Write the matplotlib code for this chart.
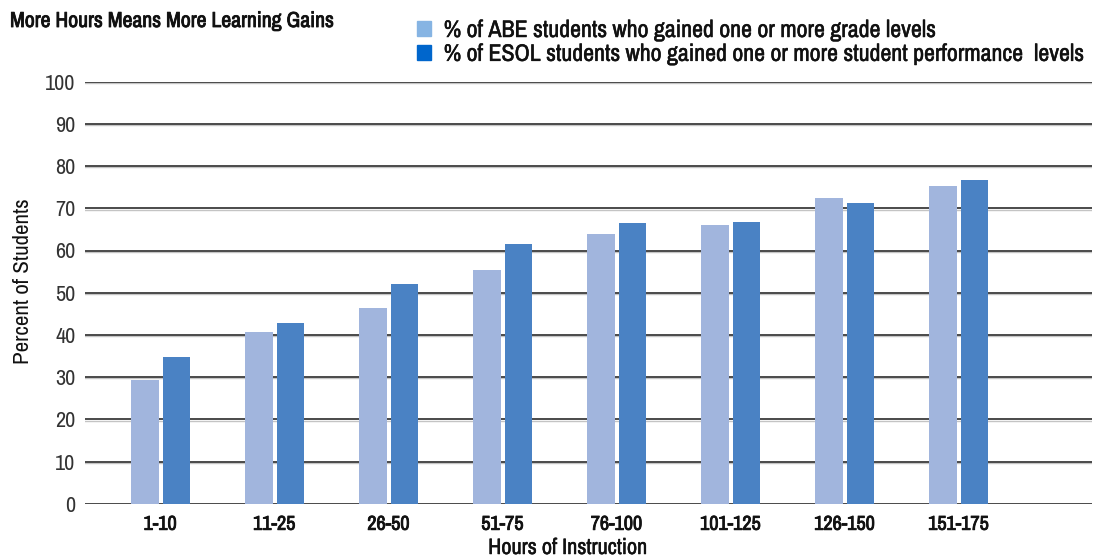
import matplotlib
matplotlib.use("Agg")
import matplotlib.pyplot as plt
import matplotlib.patches as mpatches
import matplotlib.patheffects as pe
import numpy as np

# Data
hours = ["1-10", "11-25", "26-50", "51-75", "76-100", "101-125", "126-150", "151-175"]
abe_pct = [29.3, 40.7, 46.4, 55.4, 63.9, 66.0, 72.4, 75.2]
esol_pct = [34.8, 42.8, 52.1, 61.5, 66.5, 66.8, 71.2, 76.7]
series_labels = [
    "% of ABE students who gained one or more grade levels",
    "% of ESOL students who gained one or more student performance  levels",
]
y_ticks = [0, 10, 20, 30, 40, 50, 60, 70, 80, 90, 100]

FONT = ["Archivo Narrow", "Roboto Condensed", "DejaVu Sans"]
plt.rcParams["font.family"] = FONT

bar_colors = ["#A1B5DD", "#4A82C4"]
legend_colors = ["#86B4E3", "#0066CC"]
text_dark = "#111111"
# slightly heavier strokes for the emphasised labels
heavy = [pe.withStroke(linewidth=0.6, foreground=text_dark)]
medium = [pe.withStroke(linewidth=0.35, foreground=text_dark)]

fig = plt.figure(figsize=(11.07, 5.59), dpi=100)
ax = fig.add_axes([85 / 1107, 1 - 503.7 / 559, (1092 - 85) / 1107, (503.7 - 81.7) / 559])

x = np.arange(len(hours))
ax.bar(x - 0.136, abe_pct, width=0.25, color=bar_colors[0], zorder=3)
ax.bar(x + 0.142, esol_pct, width=0.235, color=bar_colors[1], zorder=3)

ax.set_ylim(0, 100)
ax.set_xlim(-0.66, 8.17)
ax.set_yticks(y_ticks)
ax.set_yticklabels([str(t) for t in y_ticks], fontsize=16, color="#333333")
ax.set_xticks(x)
ax.set_xticklabels(hours, fontsize=14.5, fontweight="bold", color=text_dark)
for lbl in ax.get_xticklabels():
    lbl.set_path_effects(heavy)
ax.tick_params(axis="both", length=0)
ax.tick_params(axis="y", pad=7)
ax.tick_params(axis="x", pad=8)

# gridlines: dark rule with a faint light shadow just below
ytr = ax.get_yaxis_transform()
for t in y_ticks:
    ax.plot([0, 1], [t - 0.3, t - 0.3], color="#c4c4c4", lw=1.0, zorder=1, transform=ytr)
    ax.plot([0, 1], [t, t], color="#3c3c3c", lw=1.3, zorder=2, transform=ytr)

for s in ax.spines.values():
    s.set_visible(False)

fig.text(23 / 1107, 1 - 281 / 559, "Percent of Students", fontsize=16.5, color=text_dark,
         rotation=90, ha="center", va="center")
fig.text(568 / 1107, 1 - 548 / 559, "Hours of Instruction", fontsize=16,
         fontweight="bold", color=text_dark, ha="center", va="center", path_effects=medium)

fig.text(10 / 1107, 1 - 21 / 559, "More Hours Means More Learning Gains",
         fontsize=15.6, fontweight="bold", color=text_dark, ha="left", va="center",
         path_effects=heavy)

handles = [mpatches.Patch(color=c, label=l) for c, l in zip(legend_colors, series_labels)]
leg = fig.legend(handles=handles, loc="upper left", bbox_to_anchor=(417 / 1107, 1 - 20 / 559),
                 frameon=False, fontsize=17.2, handlelength=0.57, handleheight=0.6,
                 handletextpad=0.55, labelspacing=0.12, borderaxespad=0, borderpad=0,
                 labelcolor=text_dark)
for txt in leg.get_texts():
    txt.set_path_effects(medium)

fig.savefig("out.png", dpi=100, facecolor="white")
